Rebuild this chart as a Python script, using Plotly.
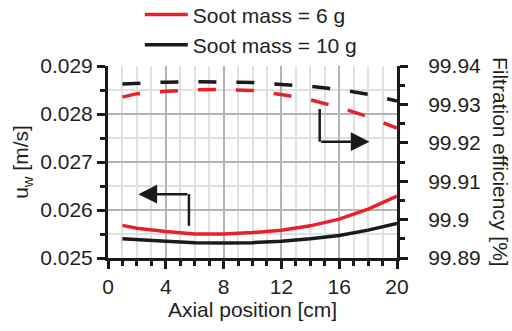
import plotly.graph_objects as go

x_pos = [1, 2, 4, 6, 8, 10, 12, 14, 16, 18, 20]
uw_6g = [0.02568, 0.02562, 0.02555, 0.02550, 0.02550, 0.02553, 0.02558, 0.02567, 0.02581, 0.02602, 0.02629]
uw_10g = [0.02540, 0.02538, 0.02535, 0.02532, 0.02531, 0.02532, 0.02535, 0.02540, 0.02547, 0.02558, 0.02572]
eff_6g = [99.9319, 99.9328, 99.9334, 99.9338, 99.9339, 99.9336, 99.9326, 99.9312, 99.9292, 99.9268, 99.9238]
eff_10g = [99.9353, 99.9355, 99.9358, 99.9359, 99.9359, 99.9357, 99.9352, 99.9347, 99.9339, 99.9326, 99.9309]

names = ["Soot mass = 6 g", "Soot mass = 10 g"]
RED = "#e8202a"
BLK = "#1a1a1a"
TXT = "#231f20"
FONT = "Arial, Liberation Sans, sans-serif"
FS = 21

fig = go.Figure()
fig.add_trace(go.Scatter(x=x_pos, y=uw_6g, mode="lines", line=dict(color=RED, width=3.5),
                         name=names[0]))
fig.add_trace(go.Scatter(x=x_pos, y=uw_10g, mode="lines", line=dict(color=BLK, width=3.5),
                         name=names[1]))
fig.add_trace(go.Scatter(x=x_pos, y=eff_6g, mode="lines", yaxis="y2",
                         line=dict(color=RED, width=3.5, dash="18px,20px"), showlegend=False))
fig.add_trace(go.Scatter(x=x_pos, y=eff_10g, mode="lines", yaxis="y2",
                         line=dict(color=BLK, width=3.5, dash="18px,20px"), showlegend=False))

# arrows (left: u_w axis, right: filtration efficiency)
fig.add_shape(type="line", x0=5.6, x1=5.6, y0=0.02567, y1=0.02633, xref="x", yref="y",
              line=dict(color=BLK, width=2.5))
fig.add_annotation(x=2.1, y=0.02633, ax=5.6, ay=0.02633, xref="x", yref="y", axref="x", ayref="y",
                   showarrow=True, arrowhead=2, arrowsize=1.5, arrowwidth=2.5, arrowcolor=BLK, text="")
fig.add_shape(type="line", x0=14.65, x1=14.65, y0=0.028104, y1=0.027422, xref="x", yref="y",
              line=dict(color=BLK, width=2.5))
fig.add_annotation(x=18.1, y=0.027422, ax=14.65, ay=0.027422, xref="x", yref="y", axref="x", ayref="y",
                   showarrow=True, arrowhead=2, arrowsize=1.5, arrowwidth=2.5, arrowcolor=BLK, text="")

# right axis title rotated clockwise
fig.add_annotation(text="Filtration efficiency [%]", x=1.360, y=0.5, xref="paper", yref="paper",
                   xanchor="center", yanchor="middle",
                   showarrow=False, textangle=90, font=dict(size=FS, color=TXT, family=FONT))

fig.update_layout(
    width=512, height=331,
    margin=dict(l=108, r=115, t=66, b=73, autoexpand=False),
    paper_bgcolor="white", plot_bgcolor="white",
    font=dict(family=FONT, size=FS, color=TXT),
    showlegend=True,
    legend=dict(x=0.11, y=1.373, xanchor="left", yanchor="top", bgcolor="rgba(0,0,0,0)",
                font=dict(size=FS), tracegroupgap=0, itemwidth=43),
    xaxis=dict(range=[0, 20], dtick=4, tick0=0, showline=True, linecolor=BLK, linewidth=3,
               ticks="outside", ticklen=8, tickwidth=3, tickcolor=BLK,
               showgrid=True, gridcolor="#b4b4b8", gridwidth=2, zeroline=False,
               minor=dict(dtick=1, ticks="outside", ticklen=5, tickwidth=3, tickcolor=BLK,
                          showgrid=True, gridcolor="#e0e0e0", gridwidth=2),
               title=dict(text="Axial position [cm]", standoff=4, font=dict(size=FS))),
    yaxis=dict(range=[0.025, 0.029], dtick=0.001, tick0=0.025, tickformat=".3f",
               showline=True, linecolor=BLK, linewidth=3,
               ticks="outside", ticklen=8, tickwidth=3, tickcolor=BLK,
               showgrid=True, gridcolor="#b4b4b8", gridwidth=2, zeroline=False,
               minor=dict(dtick=0.0005, ticks="outside", ticklen=5, tickwidth=3, tickcolor=BLK,
                          showgrid=True, gridcolor="#e0e0e0", gridwidth=2),
               title=dict(text="u<sub>w</sub> [m/s]", standoff=6, font=dict(size=FS))),
    yaxis2=dict(range=[99.89, 99.94], dtick=0.01, tick0=99.89, overlaying="y", side="right",
                showline=True, linecolor=BLK, linewidth=3,
                ticks="outside", ticklen=8, tickwidth=3, tickcolor=BLK, ticklabelstandoff=16,
                showgrid=False, zeroline=False,
                minor=dict(dtick=0.005, ticks="outside", ticklen=5, tickwidth=3, tickcolor=BLK,
                           showgrid=False)),
)

fig.write_html("out.html")
